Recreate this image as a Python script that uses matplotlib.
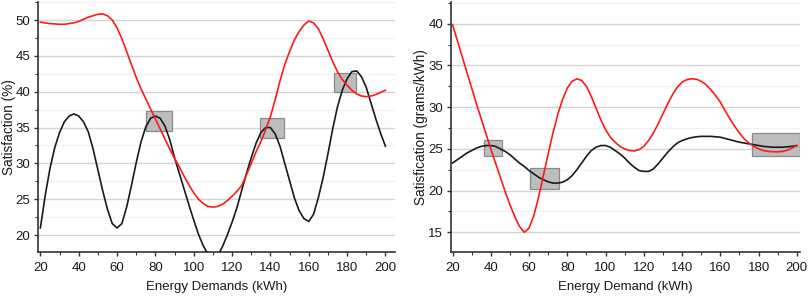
import matplotlib
matplotlib.use('Agg')
import matplotlib.pyplot as plt
from matplotlib.patches import Rectangle
from matplotlib.ticker import MultipleLocator
import numpy as np

plt.rcParams['font.family'] = ['Liberation Sans', 'DejaVu Sans']

# sample grid for reading the curves off the picture (every 2.5 kWh)
x_demand = np.arange(20, 202.5, 2.5)

# --- left panel: satisfaction (%) ---
black_left = [21.0, 25.5, 29.3, 32.2, 34.3, 35.8, 36.6, 36.9, 36.6, 35.8,
              34.4, 32.0, 29.1, 26.2, 23.6, 21.6, 21.0, 21.6, 23.9, 26.9,
              30.1, 33.0, 35.1, 36.3, 36.6, 36.3, 35.2, 33.3, 30.8, 28.6,
              26.4, 24.2, 22.1, 20.1, 18.5, 17.3, 16.8, 17.1, 18.4, 20.0,
              21.8, 23.8, 26.2, 28.6, 30.8, 32.8, 34.3, 35.0, 35.0, 34.1,
              32.4, 30.0, 27.6, 25.2, 23.4, 22.3, 21.9, 22.9, 25.2, 28.0,
              31.3, 34.8, 37.9, 40.2, 41.8, 42.8, 42.9, 42.1, 40.6, 38.4,
              36.2, 34.2, 32.4]
red_left = [49.7, 49.6, 49.5, 49.45, 49.4, 49.4, 49.5, 49.6, 49.8, 50.1,
            50.4, 50.6, 50.8, 50.85, 50.6, 50.0, 48.9, 47.4, 45.6, 43.8,
            42.0, 40.4, 39.0, 37.6, 36.2, 34.8, 33.4, 32.0, 30.7, 29.5,
            28.2, 27.0, 25.9, 25.0, 24.4, 24.0, 23.9, 24.0, 24.3, 24.8,
            25.4, 26.1, 26.9, 28.4, 30.0, 31.6, 33.0, 34.7, 36.5, 38.9,
            41.5, 43.8, 45.6, 47.2, 48.4, 49.3, 49.85, 49.6, 48.8, 47.4,
            45.8, 44.2, 42.8, 41.7, 40.9, 40.2, 39.7, 39.4, 39.3, 39.4,
            39.6, 39.9, 40.2]
# highlighted boxes (x0, x1, y0, y1)
boxes_left = [(75.1, 88.5, 34.5, 37.3), (134.5, 147.0, 33.5, 36.3),
              (173.2, 184.9, 39.9, 42.55)]

# --- right panel: grams/kWh ---
black_right = [23.3, 23.7, 24.1, 24.5, 24.8, 25.1, 25.3, 25.4, 25.4, 25.3,
               25.0, 24.7, 24.3, 23.8, 23.3, 22.9, 22.4, 22.0, 21.6, 21.3,
               21.05, 20.9, 20.9, 21.0, 21.3, 21.8, 22.5, 23.3, 24.1, 24.8,
               25.2, 25.4, 25.4, 25.2, 24.8, 24.4, 23.9, 23.3, 22.8, 22.4,
               22.3, 22.3, 22.6, 23.2, 23.9, 24.6, 25.2, 25.7, 26.0, 26.2,
               26.35, 26.45, 26.5, 26.5, 26.5, 26.45, 26.4, 26.25, 26.1, 25.95,
               25.8, 25.7, 25.6, 25.5, 25.4, 25.3, 25.25, 25.2, 25.2, 25.2,
               25.25, 25.3, 25.4]
red_right = [39.9, 38.0, 36.1, 34.2, 32.3, 30.4, 28.6, 26.8, 25.0, 23.3,
             21.6, 19.9, 18.3, 16.9, 15.7, 15.0, 15.5, 17.0, 19.2, 21.8,
             24.4, 26.9, 29.1, 30.9, 32.3, 33.1, 33.4, 33.2, 32.5, 31.3,
             29.9, 28.5, 27.3, 26.4, 25.8, 25.3, 25.0, 24.8, 24.75, 24.9,
             25.3, 26.0, 26.9, 28.0, 29.2, 30.4, 31.5, 32.4, 33.0, 33.3,
             33.4, 33.35, 33.1, 32.7, 32.1, 31.4, 30.6, 29.6, 28.6, 27.7,
             26.9, 26.2, 25.7, 25.3, 25.0, 24.8, 24.7, 24.65, 24.65, 24.7,
             24.85, 25.1, 25.4]
boxes_right = [(36.4, 46.0, 24.2, 26.1), (60.6, 75.5, 20.2, 22.7),
               (176.8, 201.7, 24.2, 26.9)]

fig = plt.figure(figsize=(8.09, 2.97), dpi=100)
ax1 = fig.add_axes([0.0466, 0.1505, 0.4414, 0.8425])
ax2 = fig.add_axes([0.557, 0.1505, 0.432, 0.8425])


def style(ax, xlim, ylim, xlabel, ylabel, ylabel_x):
    ax.set_xlim(*xlim)
    ax.set_ylim(*ylim)
    ax.xaxis.set_major_locator(MultipleLocator(20))
    ax.xaxis.set_minor_locator(MultipleLocator(10))
    ax.yaxis.set_major_locator(MultipleLocator(5))
    ax.yaxis.set_minor_locator(MultipleLocator(2.5))
    for s in ('top', 'right'):
        ax.spines[s].set_visible(False)
    for s in ('left', 'bottom'):
        ax.spines[s].set_color('#333333')
        ax.spines[s].set_linewidth(1.2)
    ax.tick_params(which='major', direction='out', length=3, width=1,
                   color='#333333', labelcolor='#1a1a1a')
    ax.tick_params(axis='x', which='major', pad=4, labelsize=9.5)
    ax.tick_params(axis='y', which='major', pad=2.5, labelsize=9.5)
    ax.tick_params(which='minor', direction='out', length=2, width=0.8,
                   color='#333333')
    ax.grid(which='major', axis='y', color='#d4d4d4', lw=1)
    ax.grid(which='minor', axis='y', color='#f0f0f0', lw=0.8)
    ax.set_axisbelow(True)
    ax.set_xlabel(xlabel, fontsize=9.5, color='#1a1a1a', labelpad=5)
    ax.set_ylabel(ylabel, fontsize=9.8, color='#1a1a1a')
    ax.yaxis.set_label_coords(ylabel_x, 0.5)


def draw(ax, x, black, red, boxes):
    for x0, x1, y0, y1 in boxes:
        ax.add_patch(Rectangle((x0, y0), x1 - x0, y1 - y0,
                               facecolor='#bdbdbd', edgecolor='#8a8a8a',
                               lw=0.9, zorder=2))
    ax.plot(x, black, color='#1a1a1a', lw=1.2, zorder=3)
    ax.plot(x, red, color='#ff1a1a', lw=1.2, zorder=4)


draw(ax1, x_demand, black_left, red_left, boxes_left)
style(ax1, (18.6, 204.9), (17.6, 52.5),
      'Energy Demands (kWh)', 'Satisfaction (%)', -0.0605)

draw(ax2, x_demand, black_right, red_right, boxes_right)
style(ax2, (19.0, 201.7), (12.6, 42.6),
      'Energy Demand (kWh)', 'Satisfication (grams/kWh)', -0.066)

fig.savefig('out.png', dpi=100)
plt.close(fig)
